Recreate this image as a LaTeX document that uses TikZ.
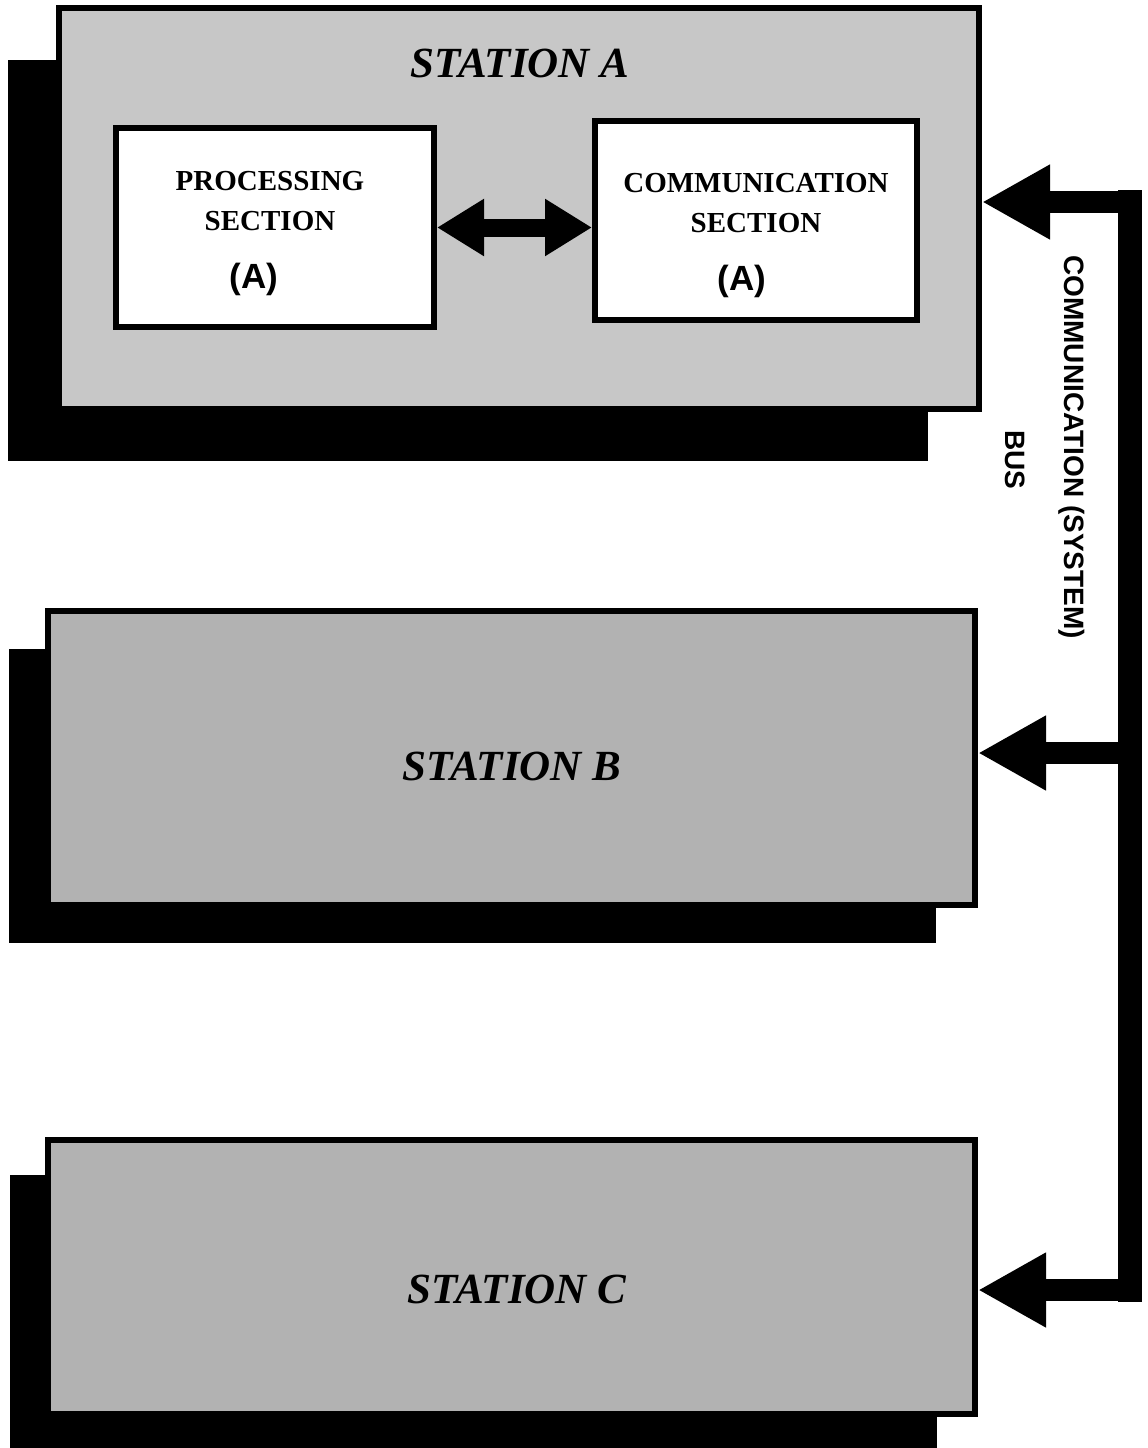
\documentclass[tikz,border=0pt]{standalone}
\usepackage{fontspec}
\setmainfont{Liberation Serif}
\newfontfamily\busfont{Liberation Sans}
\usetikzlibrary{arrows.meta, shadows}

\begin{document}
\begin{tikzpicture}[x=1pt, y=-1pt,
  station/.style={rectangle, draw, line width=6pt, inner sep=0pt},
  shadowed/.style 2 args={drop shadow={shadow xshift=#1, shadow yshift=#2,
                                      fill=black, opacity=1}},
  section/.style={rectangle, draw, line width=6pt, fill=white, inner sep=0pt,
                  minimum height=199pt},
  sectext/.style={align=center, inner sep=0pt, anchor=north,
                  font=\fontsize{29}{40}\selectfont\bfseries},
  stationlabel/.style={anchor=base, inner sep=0pt,
                       font=\fontsize{43}{43}\selectfont\bfseries\itshape},
  buslabel/.style={rotate=-90, inner sep=0pt,
                   font=\busfont\fontsize{28}{28}\selectfont\bfseries},
  link/.style={line width=18pt, >={Triangle[length=47pt, width=54pt]}, <->},
  bus/.style={line width=22pt, >={Triangle[length=68pt, width=70pt]}, ->},
  busline/.style={line width=24pt, line cap=rect},
]
\useasboundingbox (0,0) rectangle (1148,1448);

% stations
\node[station, fill=black!22, minimum width=920pt, minimum height=401pt,
      shadowed={-51pt}{-52pt}] (staA) at (519,208.5) {};
\node[station, fill=black!30, minimum width=927pt, minimum height=294pt,
      shadowed={-39pt}{-38pt}] (staB) at (511.5,758) {};
\node[station, fill=black!30, minimum width=927pt, minimum height=274pt,
      shadowed={-38pt}{-35pt}] (staC) at (511.5,1277) {};

\node[stationlabel] (labA) at (520,77) {STATION A};
\node[stationlabel] (labB) at (512,780) {STATION B};
\node[stationlabel] (labC) at (517,1303) {STATION C};

% sections of station A
\node[section, minimum width=318pt] (procA) at (275,227.5) {};
\node[section, minimum width=322pt] (commA) at (756,220.5) {};

\node[sectext] (procAtxt) at (270,171)
  {PROCESSING\\SECTION\\[18pt]\hspace*{-32pt}{\busfont\fontsize{35}{35}\selectfont(A)}};
\node[sectext] (commAtxt) at (756,173)
  {COMMUNICATION\\SECTION\\[18pt]\hspace*{-28pt}{\busfont\fontsize{35}{35}\selectfont(A)}};

\draw[link] (procA.east) -- (procA.east -| commA.west);

% system bus
\coordinate (busA) at (1130,202);
\coordinate (busB) at (1130,753);
\coordinate (busC) at (1130,1290);

\draw[busline] (busA) -- (busC);
\draw[bus] (busA) -- (busA -| staA.east);
\draw[bus] (busB) -- (busB -| staB.east);
\draw[bus] (busC) -- (busC -| staC.east);

\node[buslabel] (bustxt) at (1072,447) {COMMUNICATION (SYSTEM)};
\node[buslabel] (bustxt2) at (1015,460) {BUS};

\end{tikzpicture}
\end{document}
